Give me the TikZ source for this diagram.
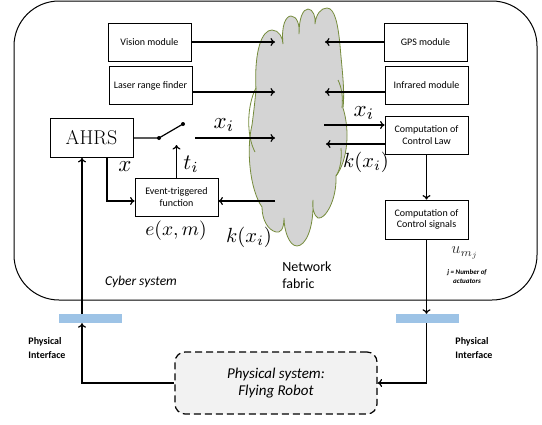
\documentclass[tikz,border=0pt]{standalone}
\usepackage{fontspec}
\newfontfamily\calibri{Carlito}
\usetikzlibrary{calc,arrows.meta}
\usepackage{xcolor}
\definecolor{cloudgray}{RGB}{212,212,212}
\definecolor{cloudline}{RGB}{118,140,60}
\definecolor{ifblue}{RGB}{157,195,230}
\definecolor{robotgray}{RGB}{242,242,242}

\begin{document}
\begin{tikzpicture}[x=1pt,y=-1pt, >={To[length=4.5pt,width=8pt]},
    box/.style={draw,line width=0.8pt,minimum width=83pt,minimum height=38pt,inner sep=1pt,align=center,font=\calibri\fontsize{10}{11.5}\selectfont},
    flow/.style={->,line width=1.2pt},
    wire/.style={line width=1.2pt},
    ifbar/.style={fill=ifblue,minimum width=63pt,minimum height=9pt,inner sep=0pt}]

  \useasboundingbox (0,0) rectangle (542,424);

  % cyber system frame
  \draw[line width=1pt, rounded corners=45pt] (14,1) rectangle (537,300);

  % network fabric (cloud)
  \draw[fill=cloudgray, draw=cloudline, line width=0.8pt] (256,90)
    .. controls (254,50) and (262,30) .. (272,30) .. controls (279,30) and (283,38) .. (283,44)
    .. controls (281,25) and (286,16) .. (291,16) .. controls (297,16) and (300,25) .. (299,34)
    .. controls (299,18) and (303,9) .. (308,9) .. controls (313,9) and (316,17) .. (315,24)
    .. controls (316,14) and (321,8) .. (327,8) .. controls (335,8) and (338,25) .. (340,45)
    .. controls (342,70) and (345,90) .. (343,108)
    .. controls (350,130) and (348,160) .. (336,176)
    .. controls (337,200) and (325,220) .. (318,218) .. controls (314,216) and (312,208) .. (313,200)
    .. controls (314,230) and (305,246) .. (297,246) .. controls (289,246) and (284,230) .. (284,218)
    .. controls (284,230) and (280,233) .. (276,232) .. controls (268,230) and (262,220) .. (262,207)
    .. controls (250,190) and (246,150) .. (252,125) .. controls (254,110) and (255,100) .. (256,90) -- cycle;
  \draw[draw=cloudline, line width=0.8pt] (256,88) .. controls (247,105) and (246,135) .. (255,152);
  \draw[draw=cloudline, line width=0.8pt] (338,80) .. controls (342,88) and (343,98) .. (342,108);
  \draw[draw=cloudline, line width=0.8pt] (341,148) .. controls (342,160) and (340,170) .. (336,176);

  % modules
  \draw (149.5,42) node (vision) [box] {Vision module};
  \draw (150.5,85.5) node (laser) [box] {Laser range finder};
  \draw (91.5,138) node (ahrs) [box,minimum height=39pt,font=\fontsize{20}{24}\selectfont] {AHRS};
  \draw (176.5,197) node (event) [box] {Event-triggered\\function};
  \draw (425.5,42) node (gps) [box] {GPS module};
  \draw (426.5,85.5) node (infrared) [box] {Infrared module};
  \draw (426.5,135) node (law) [box] {Computation of\\Control Law};
  \draw (426.5,219.5) node (signals) [box,minimum height=39pt] {Computation of\\Control signals};

  % physical side
  \draw (276,383) node (robot) [draw, dashed, dash pattern=on 7pt off 4pt, line width=1.2pt, rounded corners=10pt,
    fill=robotgray, minimum width=202pt, minimum height=62pt, align=center,
    font=\calibri\itshape\fontsize{15}{17.5}\selectfont] {Physical system:\\Flying Robot};
  \draw (90.5,318.5) node (barL) [ifbar] {};
  \draw (427.5,318.5) node (barR) [ifbar] {};

  % ends of the connectors inside the cloud
  \coordinate (inVis) at (275,43);
  \coordinate (inLas) at (275,92);
  \coordinate (inX) at (275,138);
  \coordinate (outK) at (275,201);
  \coordinate (inGps) at (325,43);
  \coordinate (inIr) at (325,92);
  \coordinate (outX) at (324,125);
  \coordinate (inK) at (326,144);
  \coordinate (swA) at (159,138);
  \coordinate (swB) at (183,124);
  \coordinate (swOut) at (195,138);
  \coordinate (tTip) at (176,145);
  \coordinate (xDown) at (107,201);
  \coordinate (upL) at (82,383);

  \draw[flow] (vision.east) -- (vision.east -| inVis);
  \draw[flow] (laser.east |- inLas) -- (inLas);
  \draw[flow] (gps.west) -- (gps.west -| inGps);
  \draw[flow] (infrared.west |- inIr) -- (inIr);
  \draw[flow] (outX) -- (law.west |- outX);
  \draw[flow] (law.west |- inK) -- (inK);
  \draw[flow] (outK) -- (event.east |- outK);
  \draw[flow] (law.south) -- (signals.north);

  % switch
  \draw[wire] (ahrs.east) -- (swA) -- (swB);
  \fill (swA) circle (2);
  \fill (swB) circle (2);
  \draw[flow] (swOut) -- (inX);
  \draw[flow] (event.north) -- (event.north |- tTip);
  \draw[flow] (ahrs.south -| xDown) |- (event.west |- xDown);

  % physical interfaces
  \draw[flow] (signals.south) -- (barR.north -| signals.south);
  \draw[flow] (barR.south -| signals.south) |- (robot.east);
  \draw[flow] (robot.west) -| (barL.south -| upL);
  \draw[flow] (barL.north -| upL) -- (ahrs.south -| upL);

  % labels
  \node (lxi) at (224,125) {\scalebox{2.3}{$x_i$}};
  \node (lxr) at (364,113) {\scalebox{2.3}{$x_i$}};
  \node (lti) at (191,164) {\scalebox{2.2}{$t_i$}};
  \node (lx) at (125,167) {\scalebox{2.3}{$x$}};
  \node (le) at (176,231) {\scalebox{1.95}{$e(x,m)$}};
  \node (lk) at (249,237) {\scalebox{2.05}{$k(x_i)$}};
  \node (lkr) at (366,162) {\scalebox{2.05}{$k(x_i)$}};
  \node[text=black!80] (lu) at (465,253) {\scalebox{1.6}{$u_{m_j}$}};
  \node[font=\calibri\bfseries\itshape\fontsize{7}{9}\selectfont, align=center] (lj) at (467,277) {j = Number of\\actuators};
  \node[font=\calibri\itshape\fontsize{13.5}{16}\selectfont] (lcyber) at (141,282) {Cyber system};
  \node[font=\calibri\fontsize{14}{17}\selectfont, align=left] (lnet) at (307,275) {Network\\fabric};
  \node[font=\calibri\bfseries\fontsize{10}{14}\selectfont, align=left] (lifl) at (47,348) {Physical\\Interface};
  \node[font=\calibri\bfseries\fontsize{10}{14}\selectfont, align=left] (lifr) at (474,348) {Physical\\Interface};

\end{tikzpicture}
\end{document}
